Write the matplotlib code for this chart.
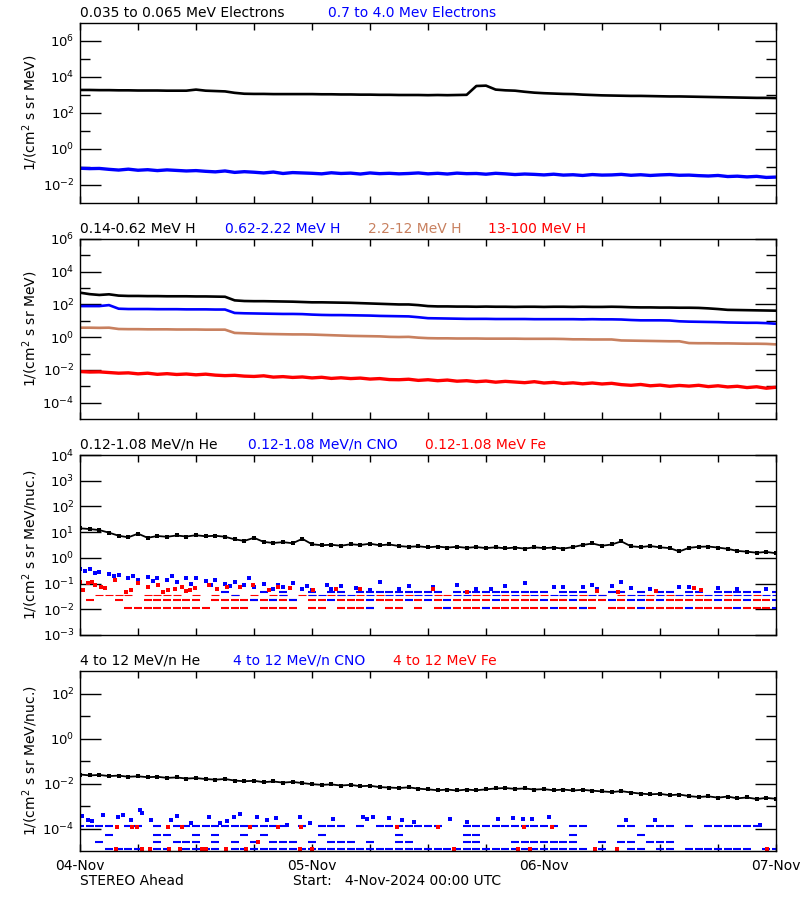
import numpy as np
import matplotlib
matplotlib.use("Agg")
import matplotlib.pyplot as plt
from matplotlib import ticker

# hourly samples from 04-Nov-2024 00:00 UTC, values are log10 of the flux
hours = np.arange(73)
day_ticks = [0, 24, 48, 72]
day_labels = ['04-Nov', '05-Nov', '06-Nov', '07-Nov']

# ---- panel 1 : electrons
elec_lo = [3.28, 3.28, 3.27, 3.27, 3.26, 3.26, 3.25, 3.25, 3.25, 3.24,
           3.24, 3.24, 3.30, 3.24, 3.22, 3.20, 3.12, 3.07, 3.06, 3.06,
           3.05, 3.05, 3.05, 3.05, 3.05, 3.04, 3.04, 3.03, 3.03, 3.02,
           3.02, 3.01, 3.01, 3.00, 3.00, 3.00, 2.99, 3.00, 2.99, 3.00,
           3.01, 3.50, 3.52, 3.30, 3.26, 3.24, 3.18, 3.13, 3.10, 3.08,
           3.06, 3.05, 3.02, 3.00, 2.98, 2.97, 2.96, 2.95, 2.95, 2.94,
           2.93, 2.92, 2.92, 2.91, 2.90, 2.89, 2.88, 2.87, 2.86, 2.85,
           2.84, 2.84, 2.83]
elec_hi = [-1.07, -1.09, -1.08, -1.13, -1.17, -1.12, -1.18, -1.15, -1.20, -1.16,
           -1.19, -1.22, -1.20, -1.24, -1.27, -1.22, -1.30, -1.26, -1.29, -1.33,
           -1.28, -1.36, -1.31, -1.33, -1.35, -1.38, -1.32, -1.36, -1.34, -1.39,
           -1.33, -1.37, -1.35, -1.38, -1.36, -1.33, -1.38, -1.35, -1.39, -1.34,
           -1.37, -1.36, -1.40, -1.35, -1.38, -1.42, -1.39, -1.41, -1.44, -1.40,
           -1.45, -1.43, -1.47, -1.42, -1.45, -1.44, -1.41, -1.46, -1.43, -1.47,
           -1.44, -1.42, -1.46, -1.45, -1.48, -1.50, -1.47, -1.53, -1.51, -1.55,
           -1.52, -1.58, -1.56]

# ---- panel 2 : protons
h_lo = [2.72, 2.63, 2.58, 2.62, 2.54, 2.52, 2.52, 2.51, 2.51, 2.50,
        2.50, 2.50, 2.49, 2.49, 2.48, 2.47, 2.25, 2.21, 2.20, 2.20,
        2.19, 2.18, 2.17, 2.15, 2.13, 2.13, 2.12, 2.11, 2.10, 2.08,
        2.06, 2.04, 2.02, 2.00, 2.00, 1.96, 1.90, 1.88, 1.88, 1.87,
        1.87, 1.86, 1.87, 1.86, 1.86, 1.85, 1.86, 1.86, 1.85, 1.86,
        1.86, 1.85, 1.86, 1.85, 1.85, 1.86, 1.85, 1.83, 1.82, 1.82,
        1.81, 1.81, 1.80, 1.80, 1.79, 1.76, 1.72, 1.67, 1.66, 1.65,
        1.64, 1.63, 1.62]
h_mid = [1.90, 1.90, 1.90, 1.96, 1.74, 1.72, 1.72, 1.72, 1.71, 1.71,
         1.71, 1.70, 1.70, 1.70, 1.69, 1.69, 1.48, 1.46, 1.45, 1.44,
         1.43, 1.42, 1.42, 1.41, 1.38, 1.36, 1.35, 1.35, 1.34, 1.33,
         1.32, 1.30, 1.29, 1.28, 1.27, 1.22, 1.16, 1.15, 1.14, 1.13,
         1.12, 1.12, 1.12, 1.11, 1.11, 1.11, 1.11, 1.10, 1.10, 1.10,
         1.10, 1.10, 1.09, 1.10, 1.09, 1.09, 1.08, 1.05, 1.03, 1.03,
         1.03, 1.02, 0.97, 0.95, 0.94, 0.93, 0.92, 0.90, 0.89, 0.88,
         0.88, 0.86, 0.82]
h_hi = [0.58, 0.58, 0.57, 0.58, 0.50, 0.49, 0.49, 0.48, 0.48, 0.48,
        0.47, 0.47, 0.47, 0.46, 0.46, 0.46, 0.26, 0.24, 0.22, 0.20,
        0.19, 0.18, 0.17, 0.17, 0.16, 0.14, 0.12, 0.10, 0.08, 0.07,
        0.06, 0.05, 0.02, 0.01, 0.02, -0.03, -0.06, -0.07, -0.07, -0.08,
        -0.08, -0.08, -0.09, -0.09, -0.09, -0.09, -0.10, -0.10, -0.10, -0.10,
        -0.11, -0.13, -0.13, -0.14, -0.14, -0.14, -0.20, -0.21, -0.22, -0.23,
        -0.24, -0.25, -0.25, -0.36, -0.37, -0.37, -0.38, -0.38, -0.39, -0.40,
        -0.40, -0.41, -0.44]
h_top = [-2.10, -2.13, -2.12, -2.16, -2.20, -2.18, -2.24, -2.20, -2.27, -2.23,
         -2.28, -2.25, -2.30, -2.26, -2.32, -2.35, -2.33, -2.38, -2.40, -2.36,
         -2.44, -2.41, -2.46, -2.43, -2.49, -2.45, -2.52, -2.48, -2.53, -2.50,
         -2.56, -2.53, -2.59, -2.60, -2.57, -2.64, -2.60, -2.66, -2.62, -2.69,
         -2.66, -2.72, -2.68, -2.75, -2.70, -2.74, -2.78, -2.72, -2.80, -2.76,
         -2.83, -2.79, -2.85, -2.80, -2.86, -2.82, -2.90, -2.94, -2.89, -2.97,
         -2.93, -3.00, -2.95, -2.99, -2.94, -3.02, -2.97, -3.04, -3.00, -3.08,
         -3.03, -3.12, -3.06]

# ---- panel 3 : 0.12-1.08 MeV/n heavy ions
he3 = [1.15, 1.12, 1.08, 0.98, 0.86, 0.80, 0.94, 0.78, 0.85, 0.82,
       0.87, 0.83, 0.88, 0.84, 0.86, 0.82, 0.72, 0.66, 0.78, 0.62,
       0.58, 0.61, 0.57, 0.74, 0.53, 0.49, 0.51, 0.47, 0.53, 0.50,
       0.55, 0.49, 0.52, 0.46, 0.43, 0.45, 0.41, 0.44, 0.40, 0.43,
       0.39, 0.42, 0.38, 0.41, 0.37, 0.40, 0.36, 0.41, 0.38, 0.40,
       0.36, 0.42, 0.50, 0.56, 0.47, 0.52, 0.64, 0.45, 0.42, 0.46,
       0.41, 0.38, 0.25, 0.39, 0.43, 0.44, 0.40, 0.35, 0.27, 0.24,
       0.20, 0.23, 0.18]
cno3_t = [0, 0.5, 1, 1.5, 2, 3, 3.5, 4, 5, 5.5, 6, 7, 7.5, 8, 9, 9.5, 10, 11,
          11.5, 12, 13, 13.5, 14, 15, 15.5, 16, 17, 17.5, 18, 19, 20, 20.5, 21,
          22, 23, 23.5, 24, 25.5, 26, 27, 28.5, 30, 31, 33, 34, 36.5, 39, 41,
          42.5, 44, 46, 49, 50, 52, 53, 53.5, 55, 56, 57, 59, 62, 63, 66, 68, 71]
cno3_v = [-0.42, -0.50, -0.45, -0.60, -0.55, -0.62, -0.72, -0.68, -0.80, -0.70,
          -0.85, -0.75, -0.90, -0.78, -0.88, -0.72, -0.95, -0.80, -1.00, -0.78,
          -0.90, -1.05, -0.88, -1.00, -1.10, -0.95, -1.05, -0.80, -1.15, -1.00,
          -1.20, -1.05, -1.15, -0.98, -1.20, -1.10, -1.25, -1.05, -1.20, -1.10,
          -1.18, -1.25, -0.93, -1.20, -1.10, -1.15, -1.05, -1.20, -1.22, -1.10,
          -0.98, -1.15, -1.12, -1.15, -1.05, -1.20, -1.10, -0.95, -1.18, -1.20,
          -1.12, -1.15, -1.18, -1.20, -1.20]
fe3_t = [0, 0.3, 0.8, 1.2, 1.6, 2.2, 2.6, 3.6, 4.8, 5.3, 6, 7, 8.1, 8.6, 9.1,
         9.8, 10.5, 11, 11.4, 11.9, 13.3, 14.2, 15.2, 16.6, 17.9, 19.5, 20.5,
         21.7, 24.1, 26.5, 29, 36.5, 40, 53.5, 55.7, 59.6, 63.5, 64.2]
fe3_v = [-0.92, -1.25, -0.99, -0.95, -1.06, -1.12, -1.19, -0.86, -1.32, -1.25,
         -0.99, -1.12, -1.06, -1.32, -1.25, -1.22, -1.12, -1.30, -1.25, -1.19,
         -1.06, -1.20, -1.12, -1.12, -1.06, -1.25, -1.12, -1.19, -1.25, -1.22,
         -1.22, -1.22, -1.32, -1.30, -1.32, -1.30, -1.16, -1.25]
# one, two, three and four counts per bin (log10 flux)
lvl3 = [-1.94, -1.63, -1.45, -1.33]
cno3_n4 = [15, 19, 21, 24, 26, 27, 29, 30, 31, 32, 33, 34, 35, 36, 37, 39, 40,
           41, 42, 43, 44, 45, 46, 47, 48, 50, 51, 52, 55, 56, 58, 60, 61, 63,
           64, 66, 67, 68, 69, 70, 72]
cno3_n3 = [16, 21, 24, 25, 27, 28, 30, 32, 33, 35, 36, 39, 40, 43, 45, 47, 49,
           50, 51, 53, 54, 57, 58, 60, 62, 63, 65, 66, 68, 69, 71, 72]
cno3_n2 = [18, 20, 22, 26, 30, 34, 36, 38, 43, 48, 51, 55, 57, 58, 60, 66, 69, 72]
cno3_n1 = [30, 38, 42, 49, 52, 58, 63, 68, 72]
fe3_n3 = [2, 3, 4, 5, 7, 8, 9, 10, 12, 14, 16, 18, 20, 21, 23, 24, 26, 27, 29,
          31, 34, 37, 38, 41, 42, 44, 46, 48, 52, 54, 56, 59, 61, 64, 67, 70]
fe3_n2 = [1, 4, 7, 8, 9, 10, 11, 12, 14, 15, 16, 17, 18, 19, 20, 21, 22, 24,
          25, 27, 28, 29, 31, 32, 33, 35, 37, 39, 40, 41, 42, 44, 45, 46, 47,
          49, 50, 52, 53, 54, 56, 59, 61, 62, 63, 64, 65, 67, 68, 70, 71]
fe3_n1 = [5, 6, 7, 8, 9, 10, 11, 12, 13, 15, 16, 17, 19, 20, 21, 22, 24, 25,
          27, 28, 29, 30, 32, 33, 35, 37, 38, 39, 40, 41, 42, 43, 44, 45, 46,
          47, 48, 50, 51, 52, 53, 55, 56, 57, 59, 60, 61, 62, 64, 65, 66, 67,
          69, 70, 71]

# ---- panel 4 : 4-12 MeV/n heavy ions
he4 = [-1.60, -1.64, -1.62, -1.67, -1.65, -1.70, -1.68, -1.72, -1.70, -1.75,
       -1.73, -1.78, -1.76, -1.80, -1.83, -1.80, -1.87, -1.90, -1.88, -1.94,
       -1.91, -1.96, -1.93, -1.98, -2.03, -2.06, -2.04, -2.09, -2.06, -2.12,
       -2.10, -2.16, -2.18, -2.20, -2.17, -2.23, -2.26, -2.30, -2.27, -2.31,
       -2.27, -2.30, -2.26, -2.22, -2.20, -2.24, -2.22, -2.27, -2.25, -2.30,
       -2.27, -2.31, -2.28, -2.32, -2.35, -2.38, -2.34, -2.40, -2.45, -2.48,
       -2.46, -2.52, -2.49, -2.56, -2.60, -2.57, -2.63, -2.58, -2.66, -2.62,
       -2.69, -2.64, -2.68]
cno4_t = [0.2, 0.8, 1.2, 2.4, 3.9, 4.4, 5.3, 6.2, 6.4, 7.3, 9.4, 10, 11.5, 13.3,
          14.5, 15.2, 15.9, 16.6, 18.3, 19.3, 20.3, 21.4, 22.8, 23.8, 26.2, 29.3,
          29.7, 30.3, 32, 33.3, 34.5, 38.3, 40, 43.2, 44.8, 45.8, 46.8, 48.5,
          56.5, 59.5, 70.3]
cno4_v = [-3.45, -3.60, -3.68, -3.40, -3.48, -3.40, -3.62, -3.18, -3.33, -3.62,
          -3.62, -3.45, -3.77, -3.48, -3.77, -3.66, -3.48, -3.36, -3.48, -3.62,
          -3.55, -3.84, -3.48, -3.74, -3.58, -3.48, -3.58, -3.48, -3.53, -3.62,
          -3.70, -3.58, -3.70, -3.58, -3.55, -3.58, -3.58, -3.48, -3.62, -3.62,
          -3.84]
lvl4 = [-4.90, -4.59, -4.27, -3.90]
cno4_n4 = [0, 1, 2, 3, 5, 6, 8, 10, 11, 12, 13, 14, 15, 16, 17, 18, 19, 20, 21,
           23, 25, 26, 27, 29, 31, 32, 33, 34, 35, 36, 37, 40, 41, 42, 43, 44,
           45, 46, 47, 48, 49, 51, 52, 56, 57, 59, 60, 61, 63, 65, 66, 67, 68,
           69, 70]
cno4_n3 = [3, 8, 9, 12, 14, 17, 19, 25, 33, 40, 41, 51, 58]
cno4_n2 = [2, 8, 10, 11, 12, 14, 16, 18, 20, 21, 22, 24, 26, 27, 28, 30, 33, 34,
           40, 41, 45, 46, 47, 48, 49, 50, 51, 54, 56, 57, 59, 60, 61]
cno4_n1 = [3, 4, 5, 6, 8, 9, 11, 12, 13, 14, 16, 17, 18, 19, 20, 21, 22, 23, 24,
           25, 26, 27, 28, 29, 30, 31, 32, 33, 34, 35, 36, 37, 38, 39, 40, 41,
           42, 43, 44, 45, 46, 47, 48, 49, 50, 51, 52, 54, 57, 58, 60, 61, 63,
           64, 65, 66, 67, 68, 69, 71, 72]
fe4_t = [3.7, 3.8, 5.4, 5.9, 6.4, 7.2, 9.1, 9.2, 10.3, 10.5, 12.6, 13, 15.1,
         17.2, 17.6, 18.4, 20.5, 22.8, 22.9, 24, 32.8, 37, 38.7, 45.3, 45.9,
         46.5, 48.8, 53.3, 55.5, 71.1]
fe4_v = [-4.90, -3.92, -3.92, -3.92, -4.90, -4.90, -3.92, -4.90, -4.90, -3.92,
         -4.90, -4.90, -4.90, -4.90, -3.92, -4.60, -3.92, -4.90, -3.92, -4.90,
         -3.92, -3.92, -4.90, -4.90, -3.92, -4.90, -3.92, -4.90, -4.90, -4.90]

BROWN = '#c8805f'
plt.rcParams['font.family'] = 'DejaVu Sans'


def flux(v):
    return 10.0 ** np.asarray(v)


def line(ax, v, color, lw=1.9):
    ax.plot(hours, flux(v), color=color, lw=lw, solid_capstyle='butt')


def speckle(ax, v, color):
    ax.plot(hours, flux(v), color=color, lw=1.3, marker='s', ms=2.6, mew=0)


def dots(ax, t, v, color):
    ax.plot(t, flux(v), ls='none', marker='s', ms=2.3, mew=0, color=color)


def rows(ax, hrs, level, color, thick=1.5):
    ax.plot(hrs, np.full(len(hrs), 10.0 ** level), ls='none', marker='_',
            ms=5.5, mew=thick, color=color)


def setup(ax, lo, hi, major, minor, ylabel):
    ax.set_yscale('log')
    ax.set_ylim(10.0 ** lo, 10.0 ** hi)
    ax.set_xlim(0, 72)
    ax.yaxis.set_major_locator(ticker.FixedLocator(10.0 ** np.array(major, float)))
    if minor:
        ax.yaxis.set_minor_locator(ticker.FixedLocator(10.0 ** np.array(minor, float)))
    else:
        ax.yaxis.set_minor_locator(ticker.NullLocator())
    ax.yaxis.set_major_formatter(ticker.LogFormatterSciNotation())
    ax.yaxis.set_minor_formatter(ticker.NullFormatter())
    ax.xaxis.set_major_locator(ticker.FixedLocator(day_ticks))
    ax.xaxis.set_minor_locator(ticker.MultipleLocator(6))
    ax.tick_params(which='both', direction='in', top=True, right=True,
                   width=1, labelsize=9.5, labelbottom=False)
    ax.tick_params(axis='y', which='major', length=15, pad=4)
    ax.tick_params(axis='y', which='minor', length=7)
    ax.tick_params(axis='x', which='both', length=5)
    for s in ax.spines.values():
        s.set_linewidth(1)
    ax.set_ylabel(ylabel, fontsize=10)
    ax.yaxis.set_label_coords(-0.058, 0.5)


def heading(y_px, items):
    for x_px, txt, col in items:
        fig.text(x_px / 800, 1 - y_px / 900, txt, color=col, fontsize=10,
                 ha='left', va='center')


fig = plt.figure(figsize=(8, 9), dpi=100)
unit = '1/(cm$^2$ s sr MeV)'
unit_n = '1/(cm$^2$ s sr MeV/nuc.)'

# panel 1
ax1 = fig.add_axes([0.1, 1 - 203 / 900, 0.87, 0.2])
setup(ax1, -3, 7, [-2, 0, 2, 4, 6], [-1, 1, 3, 5], unit)
line(ax1, elec_lo, 'black')
line(ax1, elec_hi, 'blue', lw=2.4)
heading(13, [(80, '0.035 to 0.065 MeV Electrons', 'black'),
             (328, '0.7 to 4.0 Mev Electrons', 'blue')])

# panel 2
ax2 = fig.add_axes([0.1, 1 - 419 / 900, 0.87, 0.2])
setup(ax2, -5, 6, [-4, -2, 0, 2, 4, 6], [-3, -1, 1, 3, 5], unit)
line(ax2, h_lo, 'black')
line(ax2, h_mid, 'blue')
line(ax2, h_hi, BROWN)
line(ax2, h_top, 'red', lw=2.4)
heading(229, [(80, '0.14-0.62 MeV H', 'black'), (225, '0.62-2.22 MeV H', 'blue'),
              (368, '2.2-12 MeV H', BROWN), (488, '13-100 MeV H', 'red')])

# panel 3
ax3 = fig.add_axes([0.1, 1 - 635 / 900, 0.87, 0.2])
setup(ax3, -3, 4, [-3, -2, -1, 0, 1, 2, 3, 4], None, unit_n)
speckle(ax3, he3, 'black')
rows(ax3, cno3_n4, lvl3[3], 'blue')
rows(ax3, fe3_n3, lvl3[2], 'red', thick=0.8)
rows(ax3, cno3_n3, lvl3[2], 'blue', thick=0.8)
rows(ax3, fe3_n2, lvl3[1], 'red')
rows(ax3, cno3_n2, lvl3[1], 'blue')
rows(ax3, fe3_n1, lvl3[0], 'red')
rows(ax3, cno3_n1, lvl3[0], 'blue')
dots(ax3, cno3_t, cno3_v, 'blue')
dots(ax3, fe3_t, fe3_v, 'red')
heading(445, [(80, '0.12-1.08 MeV/n He', 'black'),
              (248, '0.12-1.08 MeV/n CNO', 'blue'),
              (425, '0.12-1.08 MeV Fe', 'red')])

# panel 4
ax4 = fig.add_axes([0.1, 1 - 851 / 900, 0.87, 0.2])
setup(ax4, -5, 3, [-4, -2, 0, 2], [-3, -1, 1], unit_n)
speckle(ax4, he4, 'black')
rows(ax4, cno4_n4, lvl4[3], 'blue')
rows(ax4, cno4_n3, lvl4[2], 'blue')
rows(ax4, cno4_n2, lvl4[1], 'blue')
rows(ax4, cno4_n1, lvl4[0], 'blue')
dots(ax4, cno4_t, cno4_v, 'blue')
dots(ax4, fe4_t, fe4_v, 'red')
heading(661, [(80, '4 to 12 MeV/n He', 'black'),
              (233, '4 to 12 MeV/n CNO', 'blue'),
              (393, '4 to 12 MeV Fe', 'red')])
ax4.set_xticks(day_ticks, day_labels)
ax4.tick_params(axis='x', labelbottom=True, labelsize=10, pad=6)

fig.text(80 / 800, 1 - 881 / 900, 'STEREO Ahead', fontsize=10, va='center')
fig.text(293 / 800, 1 - 881 / 900, 'Start:   4-Nov-2024 00:00 UTC',
         fontsize=10, va='center')

fig.savefig('out.png', dpi=100)
